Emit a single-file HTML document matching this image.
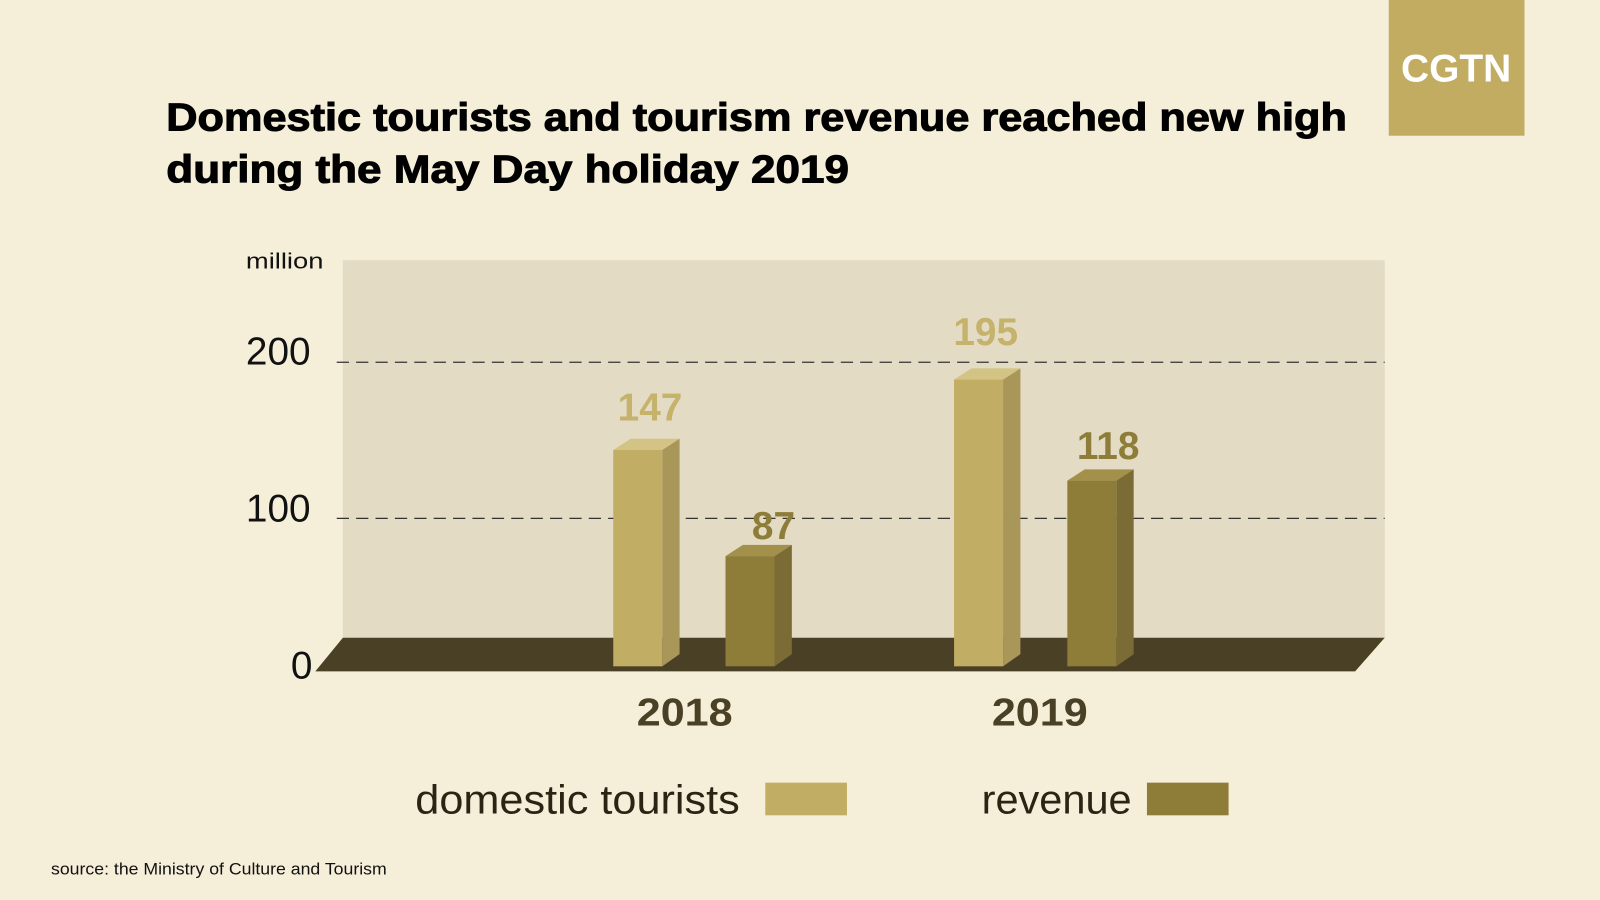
<!DOCTYPE html>
<html><head><meta charset="utf-8"><style>html,body{margin:0;padding:0;background:#f5eed9;}svg{display:block}</style></head>
<body>
<svg width="1600" height="900" viewBox="0 0 1568 882" xmlns="http://www.w3.org/2000/svg" font-family="Liberation Sans, sans-serif">
<rect x="0" y="0" width="1568" height="882" fill="#f5eed9"/>
<rect x="1361" y="0" width="133" height="133" fill="#c1ac62"/>
<text x="1427" y="80" font-size="38" font-weight="bold" fill="#fff" text-anchor="middle" textLength="108" lengthAdjust="spacingAndGlyphs">CGTN</text>
<text x="163" y="128" font-size="38" font-weight="bold" fill="#000" textLength="1157" lengthAdjust="spacingAndGlyphs" stroke="#000" stroke-width="1">Domestic tourists and tourism revenue reached new high</text>
<text x="163" y="179" font-size="38" font-weight="bold" fill="#000" textLength="669" lengthAdjust="spacingAndGlyphs" stroke="#000" stroke-width="1">during  the May Day holiday 2019</text>
<rect x="336" y="255" width="1021" height="371" fill="#e3dbc4"/>
<line x1="330" y1="355" x2="1357" y2="355" stroke="#333" stroke-width="1.3" stroke-dasharray="12,7"/>
<line x1="330" y1="508" x2="1357" y2="508" stroke="#333" stroke-width="1.3" stroke-dasharray="12,7"/>
<polygon points="336,625 1357,625 1328,658 309,658" fill="#4a4025"/>
<text x="241" y="263" font-size="22" fill="#111" textLength="76" lengthAdjust="spacingAndGlyphs">million</text>
<text x="241" y="357" font-size="38" fill="#111">200</text>
<text x="241" y="511" font-size="38" fill="#111">100</text>
<text x="285" y="665" font-size="38" fill="#111">0</text>
<g>
<polygon points="601,441 618,430 666,430 649,441" fill="#d3c384"/>
<polygon points="649,441 666,430 666,641 649,653" fill="#a99659"/>
<rect x="601" y="441" width="48" height="212" fill="#c1ad63"/>
<polygon points="711,545 728,534 776,534 759,545" fill="#a3914b"/>
<polygon points="759,545 776,534 776,641 759,653" fill="#7b6c35"/>
<rect x="711" y="545" width="48" height="108" fill="#8e7d38"/>
<polygon points="935,372 952,361 1000,361 983,372" fill="#d3c384"/>
<polygon points="983,372 1000,361 1000,641 983,653" fill="#a99659"/>
<rect x="935" y="372" width="48" height="281" fill="#c1ad63"/>
<polygon points="1046,471 1063,460 1111,460 1094,471" fill="#a3914b"/>
<polygon points="1094,471 1111,460 1111,641 1094,653" fill="#7b6c35"/>
<rect x="1046" y="471" width="48" height="182" fill="#8e7d38"/>
</g>
<g font-size="38" font-weight="bold" text-anchor="middle">
<text x="637" y="412" fill="#c5b26b">147</text>
<text x="758" y="528" fill="#8e7d38">87</text>
<text x="966" y="338" fill="#c5b26b">195</text>
<text x="1086" y="450" fill="#8e7d38">118</text>
<text x="671" y="711" fill="#4a4025" textLength="94" lengthAdjust="spacingAndGlyphs">2018</text>
<text x="1019" y="711" fill="#4a4025" textLength="94" lengthAdjust="spacingAndGlyphs">2019</text>
</g>
<text x="407" y="797" font-size="40" fill="#2b2415" textLength="318" lengthAdjust="spacingAndGlyphs">domestic tourists</text>
<rect x="750" y="767" width="80" height="32" fill="#c1ad63"/>
<text x="962" y="797" font-size="40" fill="#2b2415" textLength="147" lengthAdjust="spacingAndGlyphs">revenue</text>
<rect x="1124" y="767" width="80" height="32" fill="#8e7d38"/>
<text x="50" y="857" font-size="16" fill="#111" textLength="329" lengthAdjust="spacingAndGlyphs">source:  the Ministry of Culture and Tourism</text>
</svg>
</body></html>
